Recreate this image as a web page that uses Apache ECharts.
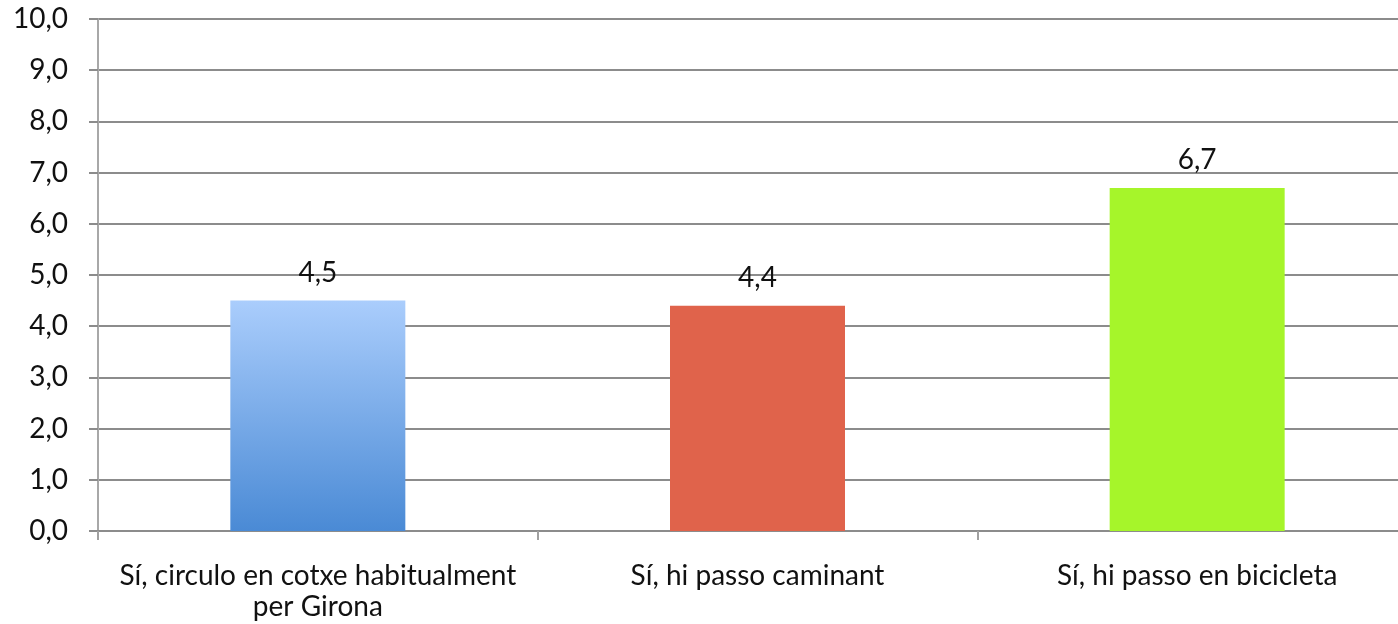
<!DOCTYPE html>
<html><head><meta charset="utf-8">
<script src="https://cdn.jsdelivr.net/npm/echarts@6/dist/echarts.min.js"></script>
<style>html,body{margin:0;padding:0;background:#fff;overflow:hidden;width:1398px;height:624px}#c{width:1417px;height:624px}</style>
</head><body><div id="c"></div>
<script>
const categories = ["Sí, circulo en cotxe habitualment\nper Girona", "Sí, hi passo caminant", "Sí, hi passo en bicicleta"];
const values = [4.5, 4.4, 6.7];
const barColors = [
  {type:'linear',x:0,y:0,x2:0,y2:1,colorStops:[{offset:0,color:'#aacdfc'},{offset:1,color:'#4a8ad5'}]},
  '#e0634b',
  '#a6f52a'
];
const fmt = v => Number(v).toFixed(1).replace('.', ',');
const chart = echarts.init(document.getElementById('c'));
chart.setOption({
  animation:false,
  grid:{left:98,top:19,right:0,bottom:93,containLabel:false},
  xAxis:{type:'category',data:categories,
    axisLine:{lineStyle:{color:'#8c8c8c',width:2}},
    axisTick:{show:true,length:9,lineStyle:{color:'#a0a0a0',width:2}},
    axisLabel:{color:'#111',fontFamily:'Lato',fontSize:28,margin:29,lineHeight:31,interval:0}},
  yAxis:{type:'value',min:0,max:10,interval:1,
    axisLine:{show:true,lineStyle:{color:'#a8a8a8',width:2}},
    axisTick:{show:true,length:9,lineStyle:{color:'#8c8c8c',width:2}},
    splitLine:{lineStyle:{color:'#8c8c8c',width:2}},
    axisLabel:{color:'#111',fontFamily:'Lato',fontSize:28,margin:30,formatter:fmt}},
  series:[{type:'bar',barWidth:175,
    data:values.map((v,i)=>({value:v,itemStyle:{color:barColors[i]}})),
    label:{show:true,position:'top',distance:14,color:'#111',fontFamily:'Lato',fontSize:28,formatter:p=>fmt(p.value)}}]
});
</script></body></html>
